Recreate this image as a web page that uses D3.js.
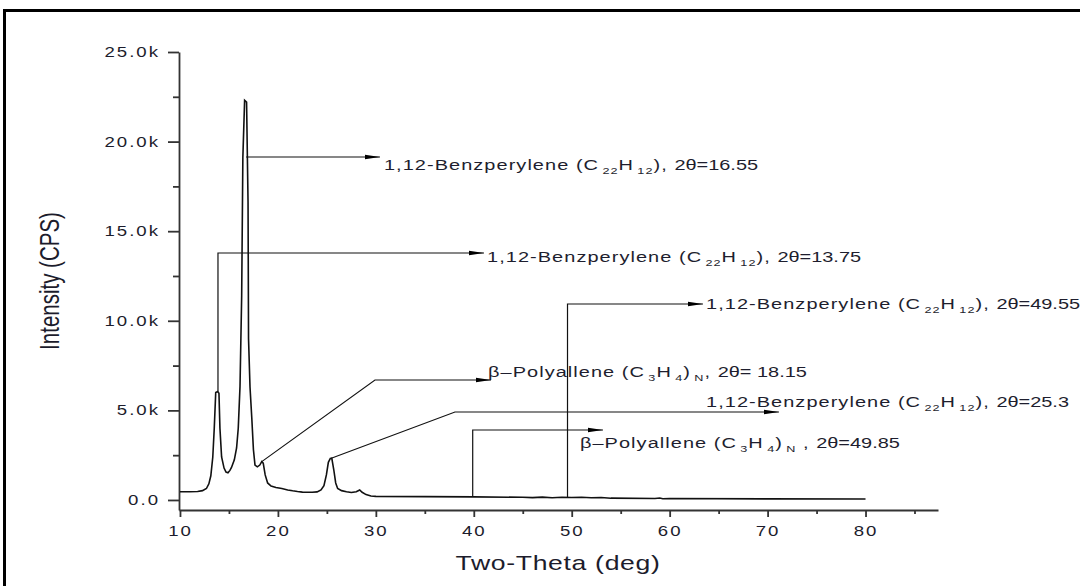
<!DOCTYPE html>
<html>
<head>
<meta charset="utf-8">
<script src="https://cdn.jsdelivr.net/npm/d3@7"></script>
<style>
  body { margin: 0; background: #fff; }
  svg { display: block; }
</style>
</head>
<body>
<div id="chart"></div>
<script>
// XRD pattern
const twoTheta = [10.0, 11.0, 11.8, 12.3, 12.7, 12.95, 13.15, 13.35, 13.5, 13.65,
  13.85, 13.98, 14.08, 14.25, 14.5, 14.7, 14.9, 15.1, 15.25, 15.55,
  15.78, 15.95, 16.13, 16.3, 16.42, 16.6, 16.8, 16.95, 17.0, 17.15,
  17.33, 17.5, 17.66, 17.9, 18.15, 18.35, 18.5, 18.7, 18.95, 19.3,
  19.8, 20.4, 21.0, 21.5, 22.0, 22.5, 23.0, 23.5, 24.0, 24.4,
  24.7, 24.95, 25.15, 25.35, 25.5, 25.7, 25.9, 26.1, 26.5, 27.0,
  27.5, 28.0, 28.35, 28.6, 29.0, 29.5, 30.0, 35.0, 40.0, 45.0,
  46.0, 47.0, 48.0, 49.0, 50.0, 51.0, 52.0, 53.0, 54.0, 58.5,
  59.0, 59.3, 60.0, 70.0, 80.0];
const intensity = [460, 460, 470, 520, 640, 900, 1350, 2400, 4000, 6000,
  6050, 5950, 4000, 2400, 1780, 1560, 1520, 1650, 1800, 2240,
  2900, 4000, 6340, 11400, 19100, 22300, 22200, 16600, 9000, 6300,
  4600, 2800, 1950, 1850, 1950, 2140, 2050, 1400, 950, 780,
  700, 640, 560, 510, 470, 440, 430, 430, 450, 560,
  800, 1400, 2100, 2320, 2330, 1700, 950, 640, 520, 460,
  420, 460, 560, 430, 300, 220, 200, 185, 170, 150,
  130, 160, 120, 150, 140, 150, 120, 140, 100, 80,
  110, 70, 80, 60, 55];

const yTicks = [0, 5000, 10000, 15000, 20000, 25000];
const yTickLabels = ["0.0", "5.0k", "10.0k", "15.0k", "20.0k", "25.0k"];
const yMinor = [2500, 7500, 12500, 17500, 22500];
const xTicks = [10, 20, 30, 40, 50, 60, 70, 80];
const xMinor = [15, 25, 35, 45, 55, 65, 75, 85];

// peak annotations: leader path (two-theta, counts), label anchor, label parts ("_" = subscript)
const notePaths = [
  [[16.75, 19140], [30.42, 19140]],
  [[13.88, 6050], [13.88, 13782], [41.04, 13782]],
  [[49.57, 140], [49.57, 10936], [63.4, 10936]],
  [[18.35, 2140], [29.91, 6695], [41.76, 6695]],
  [[25.45, 2330], [38.08, 4909], [71.16, 4909]],
  [[39.89, 170], [39.89, 3905], [53.19, 3905]]
];
const noteAt = [[30.83, 18414], [41.35, 13280], [63.71, 10657], [41.45, 6862], [63.71, 5188], [50.84, 2900]];
const noteText = [
  ["1,12-Benzperylene (C", "_22", "H", "_12", "), ", "2θ=16.55"],
  ["1,12-Benzperylene (C", "_22", "H", "_12", "), ", "2θ=13.75"],
  ["1,12-Benzperylene (C", "_22", "H", "_12", "), ", "2θ=49.55"],
  ["β–Polyallene (C", "_3", "H", "_4", ")", "_N", ", ", "2θ= 18.15"],
  ["1,12-Benzperylene (C", "_22", "H", "_12", "), ", "2θ=25.3"],
  ["β–Polyallene (C", "_3", "H", "_4", ")", "_N", " , ", "2θ=49.85"]
];

const W = 1080, H = 586;
const SX = 1.33; // the figure is stretched sideways, glyphs included

const svg = d3.select("#chart").append("svg")
  .attr("width", W).attr("height", H);

const x = d3.scaleLinear().domain([9.9, 87.4]).range([179, 938]);
const y = d3.scaleLinear().domain([-560, 25000]).range([510, 52]);

// frame
svg.append("rect")
  .attr("x", 4.5).attr("y", 10.5)
  .attr("width", 1200).attr("height", 700)
  .attr("fill", "none").attr("stroke", "#000").attr("stroke-width", 3);

svg.append("defs").append("marker")
  .attr("id", "arrow")
  .attr("viewBox", "0 -3 15 6")
  .attr("refX", 15).attr("refY", 0)
  .attr("markerWidth", 15).attr("markerHeight", 6)
  .attr("markerUnits", "userSpaceOnUse")
  .attr("orient", "auto")
  .append("path").attr("d", "M0,-2.3L15,0L0,2.3Z").attr("fill", "#000");

function stretch(sel) {
  sel.each(function () {
    const t = d3.select(this);
    const tx = +t.attr("x") || 0, ty = +t.attr("y") || 0;
    t.attr("x", 0).attr("y", 0)
      .attr("transform", `translate(${tx},${ty}) scale(${SX},1)`);
  });
}

function styleAxis(g) {
  g.select(".domain").attr("stroke", "#333").attr("stroke-width", 1.8);
  g.selectAll(".tick line").attr("stroke", "#333").attr("stroke-width", 1.8);
  g.selectAll(".tick text")
    .attr("fill", "#1c1c2c")
    .style("font-family", "'Liberation Sans', Arial, sans-serif")
    .style("font-size", "14px")
    .style("letter-spacing", "1.5px");
}

// y axis
const gy = svg.append("g").attr("transform", "translate(179,0)")
  .call(d3.axisLeft(y).tickValues(yTicks).tickSize(11).tickSizeOuter(0).tickPadding(8)
    .tickFormat((d, i) => yTickLabels[i]));
styleAxis(gy);
stretch(gy.selectAll(".tick text"));

const gy2 = svg.append("g").attr("transform", "translate(179,0)")
  .call(d3.axisLeft(y).tickValues(yMinor).tickSize(6).tickFormat(""));
gy2.select(".domain").remove();
styleAxis(gy2);

// x axis
const gx = svg.append("g").attr("transform", "translate(0,510)")
  .call(d3.axisBottom(x).tickValues(xTicks).tickSize(7).tickSizeOuter(0).tickPadding(9)
    .tickFormat(d3.format("d")));
styleAxis(gx);
stretch(gx.selectAll(".tick text"));

const gx2 = svg.append("g").attr("transform", "translate(0,510)")
  .call(d3.axisBottom(x).tickValues(xMinor).tickSize(4).tickFormat(""));
gx2.select(".domain").remove();
styleAxis(gx2);

// axis titles
svg.append("text")
  .attr("transform", `translate(558,570) scale(${SX},1)`)
  .attr("text-anchor", "middle")
  .style("font-family", "'Liberation Sans', Arial, sans-serif")
  .style("font-size", "20px")
  .style("letter-spacing", "0.5px")
  .attr("fill", "#1c1c2c")
  .text("Two-Theta (deg)");

svg.append("text")
  .attr("transform", `translate(59,281) scale(${SX},1) rotate(-90)`)
  .attr("text-anchor", "middle")
  .style("font-family", "'Liberation Sans', Arial, sans-serif")
  .style("font-size", "20.5px")
  .attr("fill", "#1c1c2c")
  .text("Intensity (CPS)");

// pattern
const pts = twoTheta.map((t, i) => [t, intensity[i]]);
svg.append("path")
  .datum(pts)
  .attr("fill", "none")
  .attr("stroke", "#111")
  .attr("stroke-width", 1.6)
  .attr("stroke-linejoin", "miter")
  .attr("d", d3.line().x(d => x(d[0])).y(d => y(d[1])));

// leader lines
const lineGen = d3.line().x(d => x(d[0])).y(d => y(d[1]));
svg.append("g").selectAll("path")
  .data(notePaths)
  .join("path")
  .attr("d", lineGen)
  .attr("fill", "none")
  .attr("stroke", "#111")
  .attr("stroke-width", 1.2)
  .attr("marker-end", "url(#arrow)");

// labels
noteText.forEach((parts, i) => {
  const t = svg.append("text")
    .attr("transform", `translate(${x(noteAt[i][0])},${y(noteAt[i][1])}) scale(${SX},1)`)
    .style("font-family", "'Liberation Sans', Arial, sans-serif")
    .style("font-size", "15px")
    .attr("fill", "#1e1e2e");
  let sub = false;
  parts.forEach(p => {
    const isSub = p.startsWith("_");
    const s = t.append("tspan").text(isSub ? p.slice(1) : p);
    if (isSub) {
      s.style("font-size", "9.5px").style("letter-spacing", "0.8px").attr("dx", 2.5);
      if (!sub) s.attr("dy", 4);
    } else {
      if (sub) s.attr("dy", -4);
      s.style("letter-spacing", p.startsWith("2θ") ? "0px" : "0.8px");
    }
    sub = isSub;
  });
});
</script>
</body>
</html>
